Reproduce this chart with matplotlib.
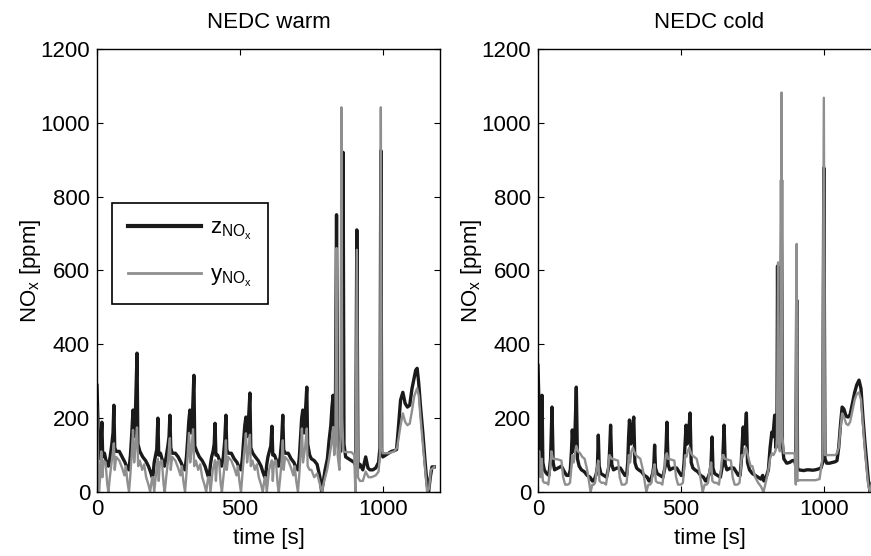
import matplotlib
matplotlib.use("Agg")
from matplotlib import pyplot as plt

plt.rcParams['font.family'] = ['Liberation Sans', 'DejaVu Sans']
plt.rcParams['mathtext.fontset'] = 'custom'
plt.rcParams['mathtext.rm'] = 'Liberation Sans'
plt.rcParams['mathtext.it'] = 'Liberation Sans'

# ---------------- NEDC warm: measured z (black) ----------------
warm_z_t = [0, 3, 6, 10, 13, 17, 20, 26, 33, 40, 46, 52, 56, 59, 62, 67, 78, 88, 98, 106, 112, 117, 121, 126, 130, 134, 140, 143, 150, 160, 170, 180, 187, 193,
            196, 200, 204, 209, 213, 216, 222, 229, 236, 242, 248, 252, 255, 258, 263, 274, 284, 294, 302, 308, 313, 317, 321, 325, 329, 333, 339, 342, 349, 358, 368, 378, 384, 390,
            393, 397, 401, 406, 410, 413, 416, 422, 429, 436, 442, 447, 451, 454, 459, 470, 480, 490, 498, 504, 509, 513, 517, 521, 525, 529, 535, 538, 545, 554, 564, 574, 580, 587,
            590, 594, 598, 603, 608, 612, 615, 621, 628, 635, 641, 646, 650, 653, 658, 669, 679, 689, 697, 703, 708, 712, 716, 720, 724, 728, 734, 737, 744,
            750, 760, 770, 780, 786, 790, 798, 806, 812, 818, 822, 826, 830, 834, 838, 842, 846, 852, 856, 858, 861, 864, 870, 880, 890, 900, 905, 909, 913, 920, 930, 940, 948, 955, 965, 975, 985, 990, 993, 996,
            1000, 1010, 1020, 1030, 1040, 1048, 1055, 1062, 1070, 1078, 1086, 1094, 1102, 1110, 1115, 1120, 1125, 1132, 1140, 1148, 1155, 1160, 1166, 1172, 1180]
warm_z = [289, 200, 90, 100, 120, 189, 95, 105, 80, 70, 95, 130, 160, 235, 120, 110, 110, 95, 80, 65, 60, 100, 150, 222, 150, 200, 376, 130, 110, 95, 85, 70, 55, 40,
          45, 80, 95, 115, 200, 100, 105, 85, 70, 95, 125, 150, 208, 120, 105, 105, 95, 80, 65, 60, 95, 140, 190, 222, 160, 190, 316, 125, 110, 95, 85, 70, 55, 40,
          45, 75, 95, 110, 130, 186, 100, 100, 85, 70, 95, 140, 208, 115, 105, 105, 90, 80, 65, 60, 95, 140, 180, 203, 150, 180, 268, 120, 105, 95, 85, 70, 55, 40,
          45, 75, 95, 110, 125, 178, 100, 100, 85, 70, 95, 140, 208, 115, 105, 105, 90, 80, 65, 60, 95, 150, 200, 222, 160, 200, 284, 130, 100,
          90, 85, 75, 40, 0, 20, 60, 90, 140, 180, 230, 262, 150, 200, 751, 150, 120, 110, 180, 300, 920, 130, 95, 90, 85, 80, 70, 710, 65, 75, 60, 95, 65, 60, 60, 65, 80, 120, 925, 110,
          95, 100, 105, 110, 112, 115, 180, 249, 270, 240, 230, 235, 280, 310, 330, 335, 300, 230, 160, 80, 20, 0, 40, 68, 68]

# ---------------- NEDC warm: model y (grey) ----------------
warm_y_t = [0, 3, 7, 11, 15, 19, 23, 30, 36, 40, 45, 51, 56, 59, 62, 67, 78, 88, 96, 101, 106, 112, 117, 122, 126, 130, 134, 140, 144, 150, 158, 165, 172, 180, 186, 193,
            196, 200, 204, 208, 213, 216, 220, 227, 233, 237, 242, 248, 252, 255, 258, 263, 274, 284, 292, 297, 302, 308, 313, 318, 322, 326, 330, 336, 340, 346, 354, 361, 368, 376, 382, 389,
            393, 397, 401, 405, 410, 413, 416, 420, 427, 433, 437, 442, 448, 451, 454, 459, 470, 480, 488, 493, 498, 504, 509, 514, 518, 521, 525, 531, 535, 538, 544, 552, 559, 566, 574, 580, 587,
            590, 594, 598, 602, 607, 612, 615, 619, 626, 632, 636, 641, 646, 650, 653, 658, 669, 679, 687, 692, 697, 703, 708, 713, 717, 721, 728, 734, 737, 744,
            750, 760, 770, 780, 787, 795, 805, 812, 820, 826, 830, 834, 838, 842, 848, 852, 855, 858, 862, 870, 880, 890, 900, 904, 909, 913, 920, 930, 940, 950, 960, 975, 985, 990, 993, 996,
            1000, 1020, 1040, 1050, 1062, 1070, 1078, 1086, 1094, 1102, 1110, 1120, 1126, 1132, 1140, 1148, 1155, 1162, 1168, 1180]
warm_y = [230, 120, 0, 40, 110, 40, 85, 80, 20, 0, 40, 80, 110, 132, 60, 95, 85, 65, 45, 70, 30, 0, 50, 110, 168, 80, 120, 175, 70, 85, 60, 75, 40, 20, 0, 40,
          40, 0, 30, 60, 90, 30, 80, 85, 20, 0, 40, 80, 120, 146, 60, 95, 85, 65, 45, 70, 30, 0, 50, 110, 160, 80, 110, 170, 70, 85, 60, 75, 40, 20, 0, 40,
          40, 0, 30, 60, 75, 86, 30, 80, 85, 20, 0, 40, 85, 140, 60, 95, 85, 65, 45, 70, 30, 0, 50, 100, 130, 159, 80, 120, 155, 70, 85, 60, 75, 40, 20, 0, 40,
          40, 0, 30, 60, 75, 86, 30, 80, 85, 20, 0, 40, 85, 140, 60, 95, 85, 65, 45, 70, 30, 0, 50, 110, 172, 80, 120, 172, 70, 60,
          60, 40, 50, 20, 0, 30, 60, 90, 130, 176, 100, 130, 661, 100, 60, 150, 1042, 200, 110, 108, 108, 108, 100, 0, 656, 40, 30, 30, 55, 40, 40, 45, 55, 100, 1042, 120,
          105, 105, 110, 120, 180, 213, 190, 181, 185, 220, 260, 281, 260, 200, 130, 60, 0, 10, 60, 68]

# ---------------- NEDC cold: measured z (black) ----------------
cold_z_t = [0, 3, 7, 11, 14, 17, 22, 30, 38, 44, 49, 53, 58, 70, 82, 92, 100, 108, 113, 117, 120, 124, 129, 134, 138, 144, 152, 162, 172, 182, 190,
            195, 200, 204, 208, 211, 214, 220, 230, 240, 248, 251, 254, 258, 264, 276, 288, 296, 304, 310, 314, 317, 320, 325, 330, 335, 339, 345, 352, 362, 372, 382, 388,
            392, 397, 401, 405, 408, 411, 417, 427, 437, 445, 448, 451, 455, 461, 473, 485, 493, 501, 507, 511, 515, 518, 522, 527, 532, 536, 542, 549, 559, 569, 579, 586,
            590, 595, 600, 605, 609, 612, 618, 628, 638, 645, 648, 651, 655, 661, 673, 685, 693, 701, 707, 711, 715, 718, 721, 725, 729, 733, 740,
            750, 760, 770, 780, 786, 790, 798, 806, 812, 818, 822, 828, 832, 836, 838, 841, 845, 849, 852, 855, 860, 870, 880, 890, 898, 902, 905, 908, 912, 920, 930, 940, 950, 960, 970, 980, 990, 996,
            1000, 1004, 1010, 1020, 1030, 1040, 1046, 1052, 1058, 1064, 1070, 1078, 1085, 1092, 1100, 1108, 1115, 1123, 1130, 1137, 1144, 1150, 1156, 1162, 1168, 1175, 1180]
cold_z = [343, 250, 100, 90, 262, 80, 60, 50, 45, 90, 230, 80, 60, 65, 70, 55, 45, 45, 60, 110, 168, 110, 150, 284, 90, 70, 60, 55, 45, 40, 30,
          30, 40, 50, 70, 154, 70, 50, 45, 40, 70, 120, 181, 75, 60, 65, 65, 55, 45, 45, 80, 150, 195, 130, 170, 203, 80, 65, 60, 55, 45, 40, 30,
          30, 40, 50, 70, 127, 65, 50, 45, 40, 70, 120, 189, 75, 60, 65, 65, 55, 45, 45, 80, 140, 181, 130, 160, 214, 80, 65, 60, 55, 45, 40, 30,
          30, 40, 50, 70, 149, 65, 50, 45, 40, 70, 120, 181, 75, 60, 65, 65, 55, 45, 45, 80, 140, 176, 130, 160, 214, 80, 60,
          50, 45, 40, 35, 45, 30, 40, 60, 120, 162, 150, 208, 120, 160, 612, 150, 130, 200, 845, 130, 90, 78, 80, 85, 86, 70, 520, 65, 60, 59, 58, 60, 60, 59, 60, 62, 65, 80,
          878, 90, 78, 78, 80, 82, 85, 120, 180, 230, 225, 205, 203, 210, 240, 270, 290, 303, 280, 200, 132, 80, 30, 0, 20, 50, 60]

# ---------------- NEDC cold: model y (grey) ----------------
cold_y_t = [0, 5, 9, 13, 17, 22, 30, 36, 42, 47, 52, 58, 70, 82, 88, 95, 105, 112, 116, 120, 125, 130, 134, 140, 147, 155, 163, 172, 180, 184, 190,
            195, 200, 205, 211, 215, 222, 230, 238, 245, 250, 254, 258, 268, 280, 286, 293, 303, 310, 314, 318, 322, 327, 332, 336, 342, 350, 358, 367, 375, 379, 386,
            392, 397, 402, 408, 412, 419, 427, 435, 442, 447, 451, 455, 465, 477, 483, 490, 500, 507, 511, 515, 519, 524, 529, 533, 539, 547, 555, 564, 572, 576, 583,
            590, 595, 600, 606, 610, 617, 625, 633, 640, 645, 649, 653, 663, 675, 681, 688, 698, 705, 709, 713, 717, 722, 727, 731, 737, 744,
            750, 760, 770, 780, 789, 798, 806, 812, 818, 824, 830, 834, 836, 840, 843, 846, 849, 852, 855, 860, 870, 880, 890, 898, 902, 905, 908, 915, 930, 950, 970, 985, 995,
            1000, 1004, 1020, 1040, 1046, 1052, 1058, 1064, 1072, 1078, 1085, 1092, 1100, 1108, 1115, 1123, 1130, 1137, 1144, 1150, 1156, 1162, 1168, 1175, 1180]
cold_y = [113, 110, 40, 90, 30, 25, 25, 20, 60, 110, 90, 90, 88, 85, 40, 20, 20, 25, 60, 100, 80, 110, 125, 110, 105, 95, 90, 60, 20, 0, 20,
          20, 25, 60, 85, 30, 25, 25, 20, 60, 100, 95, 90, 88, 85, 40, 20, 20, 25, 60, 100, 80, 110, 120, 110, 100, 95, 90, 60, 20, 0, 20,
          20, 25, 55, 75, 30, 25, 25, 20, 60, 100, 105, 90, 88, 85, 40, 20, 20, 25, 60, 100, 95, 110, 120, 110, 100, 95, 90, 60, 20, 0, 20,
          20, 25, 60, 80, 30, 25, 25, 20, 60, 100, 100, 90, 88, 85, 40, 20, 20, 25, 60, 100, 95, 110, 120, 110, 90, 70,
          70, 40, 25, 15, 0, 30, 60, 90, 105, 100, 110, 120, 150, 622, 130, 110, 150, 1082, 150, 105, 105, 105, 105, 105, 20, 672, 30, 32, 32, 32, 32, 35, 90,
          1068, 100, 100, 100, 105, 120, 170, 213, 200, 185, 181, 190, 220, 250, 265, 270, 250, 180, 110, 60, 15, 0, 25, 55, 60]

titles = ['NEDC warm', 'NEDC cold']
x_ticks = [0, 500, 1000]
y_ticks = [0, 200, 400, 600, 800, 1000, 1200]

fig = plt.figure(figsize=(8.71, 5.56), dpi=100)
ax1 = fig.add_axes([97 / 871, 64 / 556, 343 / 871, 443 / 556])
ax2 = fig.add_axes([538 / 871, 64 / 556, 343 / 871, 443 / 556])

black = '#1a1a1a'
grey = '#8f8f8f'
fs = 16
series = [(ax1, warm_z_t, warm_z, warm_y_t, warm_y), (ax2, cold_z_t, cold_z, cold_y_t, cold_y)]
for k, (ax, zt, z, yt, y) in enumerate(series):
    lz, = ax.plot(zt, z, color=black, lw=2.4)
    ly, = ax.plot(yt, y, color=grey, lw=1.7)
    ax.set_xlim(0, 1200)
    ax.set_ylim(0, 1200)
    ax.set_xticks(x_ticks)
    ax.set_yticks(y_ticks)
    ax.tick_params(direction='in', length=4, width=0.8, top=True, right=True, labelsize=fs, pad=5)
    for s in ax.spines.values():
        s.set_linewidth(1.0)
    ax.set_title(titles[k], fontsize=fs, pad=15)
    ax.set_xlabel('time [s]', fontsize=fs, labelpad=6)
    ax.set_ylabel(r'NO$_\mathrm{x}$ [ppm]', fontsize=fs, labelpad=-2)
    if k == 0:
        leg = ax.legend([lz, ly], [r'$\mathrm{z}_{\mathrm{NO}_\mathrm{x}}$', r'$\mathrm{y}_{\mathrm{NO}_\mathrm{x}}$'],
                        loc='lower left', bbox_to_anchor=(0.044, 0.424), borderaxespad=0,
                        fontsize=fs, fancybox=False, framealpha=1, edgecolor='black',
                        handlelength=3.3, handletextpad=0.4, borderpad=0.7, labelspacing=1.0)
        leg.get_frame().set_linewidth(1.2)
        leg.get_lines()[0].set_linewidth(3)
        leg.get_lines()[1].set_linewidth(2)

fig.savefig('out.png', dpi=100)
